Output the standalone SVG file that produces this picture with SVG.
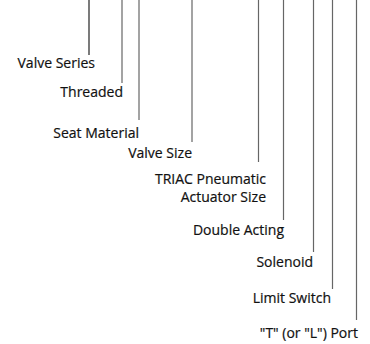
<svg xmlns="http://www.w3.org/2000/svg" width="370" height="344" viewBox="0 0 370 344">
<style>
.lbl{font-family:"Open Sans","Liberation Sans",sans-serif;font-size:14px;fill:#111;text-anchor:end;stroke:#111;stroke-width:0.2}
.ln{stroke:#666;stroke-width:1.2;fill:none}
.dk{stroke:#222}
</style>
<rect width="370" height="344" fill="#fff"/>
<g id="connectors">
<line class="ln dk" x1="89" y1="0" x2="89" y2="55"/>
<line class="ln" x1="122" y1="0" x2="122" y2="83"/>
<line class="ln" x1="139" y1="0" x2="139" y2="120"/>
<line class="ln" x1="192" y1="0" x2="192" y2="142"/>
<line class="ln" x1="258.5" y1="0" x2="258.5" y2="162"/>
<line class="ln" x1="283.5" y1="0" x2="283.5" y2="220"/>
<line class="ln" x1="313.5" y1="0" x2="313.5" y2="252"/>
<line class="ln" x1="332.5" y1="0" x2="332.5" y2="289"/>
<line class="ln" x1="356.5" y1="0" x2="356.5" y2="320"/>
</g>
<g id="valve-series"><text class="lbl" x="95" y="68">Valve Series</text></g>
<g id="threaded"><text class="lbl" x="123" y="97">Threaded</text></g>
<g id="seat-material"><text class="lbl" x="139" y="138">Seat Material</text></g>
<g id="valve-size"><text class="lbl" x="192" y="158">Valve Size</text></g>
<g id="actuator-size"><text class="lbl" x="266" y="184">TRIAC Pneumatic</text><text class="lbl" x="266" y="202">Actuator Size</text></g>
<g id="double-acting"><text class="lbl" x="284" y="235">Double Acting</text></g>
<g id="solenoid"><text class="lbl" x="313" y="267">Solenoid</text></g>
<g id="limit-switch"><text class="lbl" x="331" y="303">Limit Switch</text></g>
<g id="port"><text class="lbl" x="358" y="338">"T" (or "L") Port</text></g>
</svg>
